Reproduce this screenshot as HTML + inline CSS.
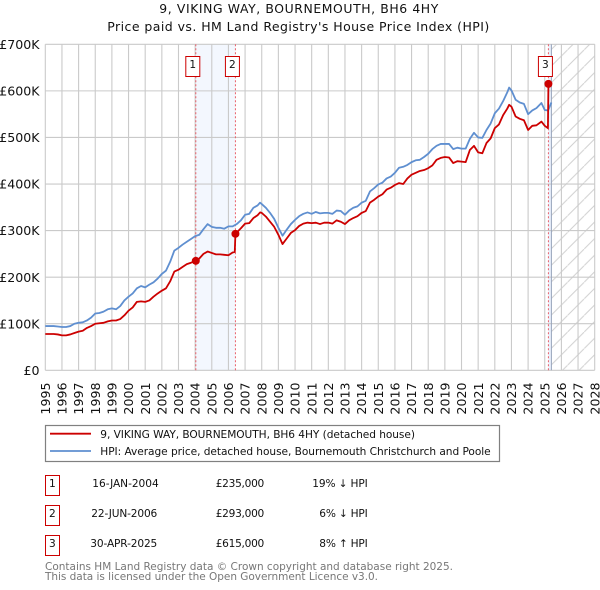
<!DOCTYPE html>
<html>
<head>
<meta charset="utf-8">
<style>
html,body{margin:0;padding:0;background:#fff;width:600px;height:590px;overflow:hidden}
svg{display:block}
text{font-family:"DejaVu Sans","Liberation Sans",sans-serif;fill:#111}
</style>
</head>
<body>
<svg id="chart" width="600" height="590" viewBox="0 0 600 590" xmlns="http://www.w3.org/2000/svg">
  <defs>
    <pattern id="hatch" patternUnits="userSpaceOnUse" width="16.6" height="16.6" patternTransform="translate(551 0)">
      <line x1="0" y1="16.6" x2="16.6" y2="0" stroke="#d0d0d0" stroke-width="1"/>
    </pattern>
  </defs>
  <text x="159.3" y="13" font-size="12.4" textLength="279" lengthAdjust="spacing">9, VIKING WAY, BOURNEMOUTH, BH6 4HY</text>
  <text x="107.3" y="31" font-size="12.5" textLength="382" lengthAdjust="spacing">Price paid vs. HM Land Registry's House Price Index (HPI)</text>
  <g id="plot"></g>

  <g>
    <rect x="45.5" y="425.5" width="454" height="36" fill="#fff" stroke="#808080" stroke-width="1.2"/>
    <line x1="50" y1="433.7" x2="91" y2="433.7" stroke="#cc0000" stroke-width="1.8"/>
    <text x="100.3" y="438" font-size="10.6" textLength="314.7" lengthAdjust="spacing">9, VIKING WAY, BOURNEMOUTH, BH6 4HY (detached house)</text>
    <line x1="50" y1="451" x2="91" y2="451" stroke="#5f8fd0" stroke-width="1.8"/>
    <text x="100.3" y="455" font-size="10.6" textLength="390.4" lengthAdjust="spacing">HPI: Average price, detached house, Bournemouth Christchurch and Poole</text>
  </g>

  <g font-size="10.6">
    <g>
      <rect x="45.5" y="475.5" width="14" height="20" fill="#fff" stroke="#cc0000" stroke-width="1"/>
      <text x="52.4" y="487" text-anchor="middle">1</text>
      <text x="92.3" y="487" textLength="66.4" lengthAdjust="spacing">16-JAN-2004</text>
      <text x="215.7" y="487" textLength="48.6" lengthAdjust="spacing">£235,000</text>
      <text x="312.3" y="487" textLength="55.4" lengthAdjust="spacing">19% ↓ HPI</text>
    </g>
    <g>
      <rect x="45.5" y="505.5" width="14" height="20" fill="#fff" stroke="#cc0000" stroke-width="1"/>
      <text x="52.4" y="517" text-anchor="middle">2</text>
      <text x="91.3" y="517" textLength="66" lengthAdjust="spacing">22-JUN-2006</text>
      <text x="215.7" y="517" textLength="48.6" lengthAdjust="spacing">£293,000</text>
      <text x="319.3" y="517" textLength="48.4" lengthAdjust="spacing">6% ↓ HPI</text>
    </g>
    <g>
      <rect x="45.5" y="535.5" width="14" height="20" fill="#fff" stroke="#cc0000" stroke-width="1"/>
      <text x="52.4" y="547" text-anchor="middle">3</text>
      <text x="90.3" y="547" textLength="67" lengthAdjust="spacing">30-APR-2025</text>
      <text x="215.7" y="547" textLength="48.6" lengthAdjust="spacing">£615,000</text>
      <text x="319.3" y="547" textLength="48.4" lengthAdjust="spacing">8% ↑ HPI</text>
    </g>
  </g>

  <text x="45" y="570" font-size="10.5" textLength="408" lengthAdjust="spacing" style="fill:#777">Contains HM Land Registry data © Crown copyright and database right 2025.</text>
  <text x="45" y="580" font-size="10.5" textLength="333" lengthAdjust="spacing" style="fill:#777">This data is licensed under the Open Government Licence v3.0.</text>
</svg>
<script>
const yearTicks = [1995,1996,1997,1998,1999,2000,2001,2002,2003,2004,2005,2006,2007,2008,2009,2010,2011,2012,2013,2014,2015,2016,2017,2018,2019,2020,2021,2022,2023,2024,2025,2026,2027,2028];
const valueTicks = [0,100,200,300,400,500,600,700];
const valueTickLabels = ['£0','£100K','£200K','£300K','£400K','£500K','£600K','£700K'];

const hpiDates = [
1995,1995.25,1995.5,1995.75,1996,1996.25,1996.5,1996.75,1997,1997.25,1997.5,1997.75,
1998,1998.25,1998.5,1998.75,1999,1999.25,1999.5,1999.75,2000,2000.25,2000.5,2000.75,
2001,2001.25,2001.5,2001.75,2002,2002.25,2002.5,2002.75,2003,2003.25,2003.5,2003.75,
2004,2004.25,2004.5,2004.75,2005,2005.25,2005.5,2005.75,2006,2006.25,2006.5,2006.75,
2007,2007.25,2007.5,2007.75,2007.9,2008,2008.25,2008.5,2008.75,2009,2009.25,2009.5,2009.75,
2010,2010.25,2010.5,2010.75,2011,2011.25,2011.5,2011.75,2012,2012.25,2012.5,2012.75,
2013,2013.25,2013.5,2013.75,2014,2014.25,2014.5,2014.75,2015,2015.25,2015.5,2015.75,
2016,2016.25,2016.5,2016.75,2017,2017.25,2017.5,2017.75,2018,2018.25,2018.5,2018.75,
2019,2019.25,2019.5,2019.75,2020,2020.25,2020.5,2020.75,2021,2021.25,2021.5,2021.75,
2022,2022.25,2022.5,2022.75,2022.86,2023,2023.25,2023.5,2023.75,2024,2024.25,2024.5,2024.8,
2025,2025.2,2025.4];
const hpiValues = [
95,95,95,94,93,93,95,100,102,103,107,113,
122,123,126,131,133,131,138,150,158,165,176,181,
178,184,189,197,207,214,233,257,263,270,276,282,
288,291,303,314,308,306,306,304,309,309,314,322,
334,336,349,354,360,357,349,338,325,306,289,302,314,
323,331,336,339,336,340,337,338,338,336,343,342,
334,343,349,352,360,364,384,391,399,403,412,416,
424,435,437,441,447,451,452,458,465,475,482,486,
486,486,475,478,476,476,497,510,500,499,516,530,
552,562,578,597,607,601,581,575,572,550,558,563,574,
559,558,575];

const priceDates = [
1995,1995.25,1995.5,1995.75,1996,1996.25,1996.5,1996.75,1997,1997.25,1997.5,1997.75,
1998,1998.25,1998.5,1998.75,1999,1999.25,1999.5,1999.75,2000,2000.25,2000.5,2000.75,
2001,2001.25,2001.5,2001.75,2002,2002.25,2002.5,2002.75,2003,2003.25,2003.5,2003.75,
2004.04,2004.25,2004.5,2004.75,2005,2005.25,2005.5,2005.75,2006,2006.25,2006.38,2006.42,2006.5,2006.75,
2007,2007.25,2007.5,2007.75,2007.9,2008,2008.25,2008.5,2008.75,2009,2009.25,2009.5,2009.75,
2010,2010.25,2010.5,2010.75,2011,2011.25,2011.5,2011.75,2012,2012.25,2012.5,2012.75,
2013,2013.25,2013.5,2013.75,2014,2014.25,2014.5,2014.75,2015,2015.25,2015.5,2015.75,
2016,2016.25,2016.5,2016.75,2017,2017.25,2017.5,2017.75,2018,2018.25,2018.5,2018.75,
2019,2019.25,2019.5,2019.75,2020,2020.25,2020.5,2020.75,2021,2021.25,2021.5,2021.75,
2022,2022.25,2022.5,2022.75,2022.86,2023,2023.25,2023.5,2023.75,2024,2024.25,2024.5,2024.8,
2025,2025.19,2025.22,2025.4];
const priceValues = [
78,78,78,77,75,75,77,80,83,85,91,95,
100,101,102,105,107,107,110,118,128,135,147,148,
147,150,158,165,171,176,191,212,216,222,228,231,
235,240,250,255,252,249,249,248,247,253,254,293,296,305,
315,316,327,333,339,338,330,319,308,291,271,283,295,
301,310,315,317,316,317,314,317,317,315,322,319,
314,322,327,331,338,342,360,366,373,378,388,392,
398,402,400,412,420,424,428,430,434,440,452,456,
458,457,445,449,448,447,473,482,468,466,488,498,
520,528,548,562,570,566,545,540,537,516,525,526,534,
525,520,615,615];

const saleDates = [2004.04,2006.42,2025.22];
const salePrices = [235,293,615];
const saleLabels = ['1','2','3'];
const forecastStart = 2025.4;

const X0 = 45.3, X1 = 594.7, Y0 = 370.3, Y1 = 44.3;
const xMin = 1995, xMax = 2028, vMax = 700;
function xScale(t){ return X0 + (t - xMin) * (X1 - X0) / (xMax - xMin); }
function yScale(v){ return Y0 - v * (Y0 - Y1) / vMax; }

const NS = 'http://www.w3.org/2000/svg';
const plot = document.getElementById('plot');
function mk(tag, attrs, parent){
  const el = document.createElementNS(NS, tag);
  for (const k in attrs) el.setAttribute(k, attrs[k]);
  (parent || plot).appendChild(el);
  return el;
}
function pathFor(ds, vs){
  return ds.map((d,i) => (i ? 'L' : 'M') + xScale(d).toFixed(2) + ' ' + yScale(vs[i]).toFixed(2)).join(' ');
}

// shaded spans
const band1 = mk('rect', {x:xScale(saleDates[0]), y:Y1, width:xScale(saleDates[1])-xScale(saleDates[0]), height:Y0-Y1, fill:'#f3f7fe'});


const band2 = mk('rect', {x:xScale(saleDates[2]), y:Y1, width:xScale(forecastStart)-xScale(saleDates[2]), height:Y0-Y1, fill:'#e9f0fc'});


const hatchRect = mk('rect', {x:xScale(forecastStart), y:Y1, width:X1-xScale(forecastStart), height:Y0-Y1, fill:'url(#hatch)'});



// grid and ticks
yearTicks.forEach(function(y){
  const gl = mk('line', {x1:xScale(y), x2:xScale(y), y1:Y1, y2:Y0, stroke:'#cacaca', 'stroke-width':1.1});
  
  
  const tx = xScale(y);
  const lb = mk('text', {x:0, y:0, 'font-size':12.6, 'text-anchor':'end', transform:'translate(' + (tx + 4.6) + ' 382.5) rotate(-90)'});
  lb.textContent = y;
  
  
});
valueTicks.forEach(function(v,i){
  const gl = mk('line', {x1:X0, x2:X1, y1:yScale(v), y2:yScale(v), stroke:'#cacaca', 'stroke-width':1.1});
  
  
  const lb = mk('text', {x:39.5, y:yScale(v)+4.6, 'font-size':12.6, 'text-anchor':'end'});
  lb.textContent = valueTickLabels[i];
  
  
});

// forecast boundary
const fLine = mk('line', {x1:xScale(forecastStart), x2:xScale(forecastStart), y1:Y1, y2:Y0, stroke:'#9aa6bd', 'stroke-width':1});



// sale date markers
saleDates.forEach(function(d){
  const dl = mk('line', {x1:xScale(d), x2:xScale(d), y1:Y1, y2:Y0, stroke:'#e8606a', 'stroke-width':1, 'stroke-dasharray':'2 2'});
  
  
});

// series
const hpiLine = mk('path', {d:pathFor(hpiDates, hpiValues), fill:'none', stroke:'#5f8fd0', 'stroke-width':1.8, 'stroke-linejoin':'round'});


const priceLine = mk('path', {d:pathFor(priceDates, priceValues), fill:'none', stroke:'#cc0000', 'stroke-width':1.8, 'stroke-linejoin':'round'});



// sale points and numbered badges
saleDates.forEach(function(d,i){
  const pt = mk('circle', {cx:xScale(d), cy:yScale(salePrices[i]), r:4, fill:'#cc0000'});
  
  
  const bx = mk('rect', {x:xScale(d)-10, y:56.5, width:14, height:20, fill:'#fff', stroke:'#cc0000', 'stroke-width':1});
  
  
  const t = mk('text', {x:xScale(d)-3, y:68, 'font-size':10.6, 'text-anchor':'middle'});
  t.textContent = saleLabels[i];
  
  
});
</script>
</body>
</html>
